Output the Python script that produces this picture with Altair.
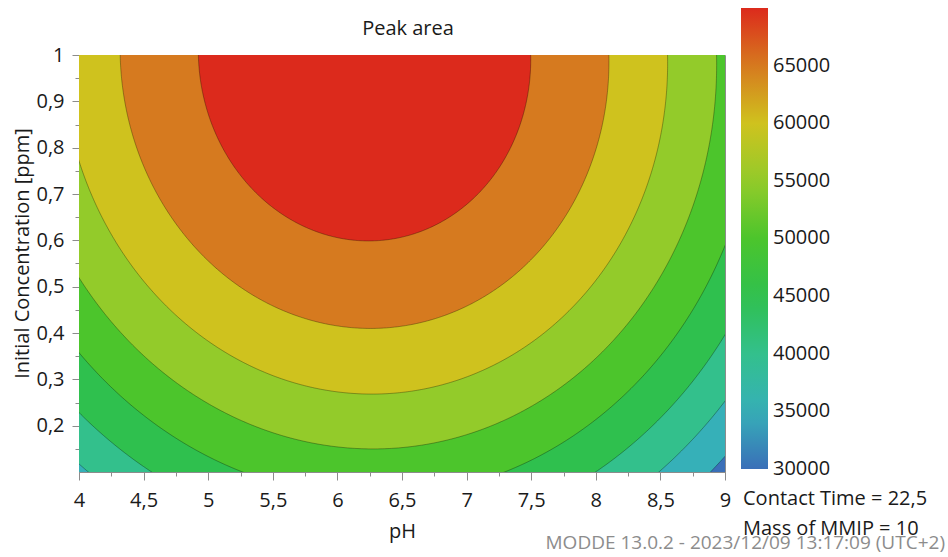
import numpy as np
import pandas as pd
import altair as alt

FONT = "Open Sans"
FS = 20

# ---------------- values ----------------
chart_title = "Peak area"
x_title = "pH"
y_title = "Initial Concentration [ppm]"

x_domain = [4, 9]
y_domain = [0.1, 1.0]
x_major = [4, 4.5, 5, 5.5, 6, 6.5, 7, 7.5, 8, 8.5, 9]
x_minor = [4.25, 4.75, 5.25, 5.75, 6.25, 6.75, 7.25, 7.75, 8.25, 8.75]
y_major = [0.2, 0.3, 0.4, 0.5, 0.6, 0.7, 0.8, 0.9, 1.0]
y_minor = [0.15, 0.25, 0.35, 0.45, 0.55, 0.65, 0.75, 0.85, 0.95]

contour_levels = [30000, 35000, 40000, 45000, 50000, 55000, 60000, 65000]
band_values = [30000, 35000, 40000, 45000, 50000, 55000, 60000, 65000, 70000]
band_colors = ["#3a6fb8", "#36b0b8", "#33c08c", "#2fc04e", "#4cc52c",
               "#93cb2a", "#cfc21e", "#d67a1f", "#dc2a1c"]
colorbar_ticks = [30000, 35000, 40000, 45000, 50000, 55000, 60000, 65000]
colorbar_min = 29999    # bar starts just under the first tick so its label stays centred

# response-surface coefficients estimated from the contour positions
peak_max = 69300        # peak area at the optimum
curv_ph = 2600          # curvature along pH
curv_conc = 26700       # curvature along concentration
ph_opt_top = 6.21       # pH optimum at concentration = 1
ph_opt_shift = 0.078    # shift of the pH optimum per unit of (1 - concentration)
conc_opt = 1.0          # concentration optimum

notes = ["Contact Time = 22,5", "Mass of MMIP = 10"]
footer = "MODDE 13.0.2 - 2023/12/09 13:17:09 (UTC+2)"

# ---------------- contour geometry from the model ----------------
phi = np.linspace(0, np.pi / 2, 240)
area_rows, line_rows = [], []
for k, L in enumerate(contour_levels):
    rx = np.sqrt((peak_max - L) / curv_ph)
    ry = np.sqrt((peak_max - L) / curv_conc)
    yy = conc_opt - ry * np.sin(phi)
    xc = ph_opt_top + ph_opt_shift * (conc_opt - yy)
    half = rx * np.cos(phi)
    xl, xr = xc - half, xc + half
    for yv, a, b in zip(yy, xl, xr):
        area_rows.append({"level": L, "y": float(yv), "xl": float(a),
                          "xr": float(b), "c": band_values[k + 1]})
    pts = list(zip(xl, yy)) + list(zip(xr, yy))[::-1]
    for i, (xv, yv) in enumerate(pts):
        line_rows.append({"level": L, "x": float(xv), "y": float(yv), "i": i})

area_df = pd.DataFrame(area_rows)
line_df = pd.DataFrame(line_rows)
bg_df = pd.DataFrame({"x0": [x_domain[0]], "x1": [x_domain[1]],
                      "y0": [y_domain[0]], "y1": [y_domain[1]],
                      "c": [band_values[0]]})

xs = alt.Scale(domain=x_domain, nice=False, zero=False)
ys = alt.Scale(domain=y_domain, nice=False, zero=False)

legend = alt.Legend(
    orient="none", legendX=662, legendY=-47, direction="vertical",
    gradientLength=461, gradientThickness=27, gradientStrokeWidth=0,
    title=None, values=colorbar_ticks, format="d",
    labelFont=FONT, labelFontSize=FS, labelColor="#1a1a1a", labelOffset=5,
)
color = alt.Color("c:Q", scale=alt.Scale(domain=[colorbar_min] + band_values[1:],
                                         range=band_colors, interpolate="rgb"),
                  legend=legend)

label_expr = "replace(format(datum.value, '~g'), '.', ',')"
x_axis_major = alt.Axis(values=x_major, orient="bottom", title=x_title,
                        tickSize=8, labelPadding=10, labelExpr=label_expr,
                        titleBaseline="alphabetic", titleY=65, labelFlush=False)
y_axis_major = alt.Axis(values=y_major, orient="left", title=y_title,
                        tickSize=7, labelPadding=8, labelExpr=label_expr,
                        titleX=-51, titleY=198, titleBaseline="alphabetic",
                        labelFlush=False)
x_axis_minor = alt.Axis(values=x_minor, orient="bottom", title=None,
                        labels=False, domain=False, tickSize=4)
y_axis_minor = alt.Axis(values=y_minor, orient="left", title=None,
                        labels=False, domain=False, tickSize=4)

bg = alt.Chart(bg_df).mark_rect().encode(
    x=alt.X("x0:Q", scale=xs, axis=x_axis_major), x2="x1:Q",
    y=alt.Y("y0:Q", scale=ys, axis=y_axis_major), y2="y1:Q",
    color=color,
)

areas = []
for L in contour_levels:
    areas.append(
        alt.Chart(area_df).transform_filter(alt.datum.level == L)
        .mark_area(orient="horizontal", clip=True)
        .encode(x=alt.X("xl:Q", scale=xs, axis=None), x2="xr:Q",
                y=alt.Y("y:Q", scale=ys, axis=None), color=color)
    )

lines = alt.Chart(line_df).mark_line(clip=True, color="#000000", opacity=0.3,
                                     strokeWidth=1).encode(
    x=alt.X("x:Q", scale=xs, axis=x_axis_minor),
    y=alt.Y("y:Q", scale=ys, axis=y_axis_minor),
    detail="level:N", order="i:Q",
)

def text_layer(txt, px, py, align="left", col="#1a1a1a", size=FS):
    return alt.Chart(pd.DataFrame({"t": [txt]})).mark_text(
        font=FONT, fontSize=size, align=align, baseline="alphabetic", color=col
    ).encode(text="t:N", x=alt.value(px), y=alt.value(py))

title_t = text_layer(chart_title, 329, -20, align="center")
foot_t = text_layer(footer, 866, 494, align="right", col="#8c8c8c", size=19)
note1 = text_layer(notes[0], 664, 450)
note2 = text_layer(notes[1], 664, 480)

chart = alt.layer(bg, *areas, lines, title_t, foot_t, note1, note2).resolve_axis(
    x="independent", y="independent"
).properties(
    width=646, height=417,
    padding={"left": 79, "top": 55, "right": 223, "bottom": 85},
    autosize=alt.AutoSizeParams(type="none"),
    background="white",
).configure_view(stroke="#8c8c8c", strokeWidth=1).configure_axis(
    grid=False, domainColor="#8c8c8c", tickColor="#8c8c8c",
    labelFont=FONT, labelFontSize=FS, labelColor="#1a1a1a",
    titleFont=FONT, titleFontSize=FS, titleFontWeight="normal",
    titleColor="#1a1a1a",
)

chart.save("out.html", embed_options={"renderer": "svg", "actions": False})
